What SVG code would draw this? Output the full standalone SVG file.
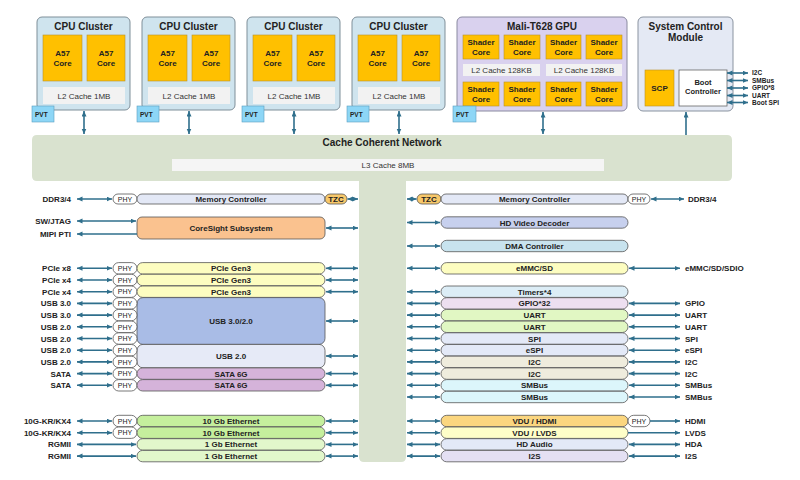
<svg xmlns="http://www.w3.org/2000/svg" width="800" height="480" viewBox="0 0 800 480">
<style>
text{font-family:"Liberation Sans",Arial,sans-serif;fill:#222}
.b{font-weight:bold}
.t10{font-size:10px;font-weight:bold;text-anchor:middle}
.t8{font-size:8px;font-weight:bold;text-anchor:middle}
.n8{font-size:8px;text-anchor:middle;fill:#333}
.lab{font-size:8px;font-weight:bold;text-anchor:end}
.rlab{font-size:8px;font-weight:bold;text-anchor:start}
.sm{font-size:6.5px;font-weight:bold}
.clu{fill:#cfe4ee;stroke:#7f8f99;stroke-width:1}
.core{fill:#ffc000;stroke:#b8912a;stroke-width:0.6}
.l2{fill:#f2f2f2}
.pvt{fill:#8dd6f6;stroke:#5a9ec0;stroke-width:0.6}
.box{stroke:#555;stroke-width:0.8}
.phy{fill:#fff;stroke:#555;stroke-width:0.8}
.ar{stroke:#2f6f8c;stroke-width:1.6;fill:none;marker-start:url(#ah);marker-end:url(#ah)}
.ae{stroke:#2f6f8c;stroke-width:1.6;fill:none;marker-end:url(#ah)}
.as{stroke:#2f6f8c;stroke-width:1.6;fill:none;marker-start:url(#ah)}
</style>
<defs>
<marker id="ah" markerUnits="userSpaceOnUse" markerWidth="6" markerHeight="6" refX="5.5" refY="2.5" orient="auto-start-reverse"><path d="M0,0 L5.5,2.5 L0,5 z" fill="#2f6f8c"/></marker>
</defs>
<rect width="800" height="480" fill="#fff"/>

<g id="ccn">
<path d="M37,135 H727 Q732,135 732,140 V176 Q732,181 727,181 H406 V457 Q406,462 401,462 H364 Q359,462 359,457 V181 H37 Q32,181 32,176 V140 Q32,135 37,135 Z" fill="#d9e2cf"/>
<text x="382" y="146" class="t10">Cache Coherent Network</text>
<rect x="172" y="159" width="432" height="12" fill="#f5f5f5"/>
<text x="388" y="168" class="n8">L3 Cache 8MB</text>
</g>

<g id="cpu1">
<rect x="37" y="17" width="93" height="93" rx="5" class="clu"/>
<text x="83.5" y="30" class="t10">CPU Cluster</text>
<rect x="43" y="35" width="39" height="46" class="core"/><text x="62.5" y="56" class="t8">A57</text><text x="62.5" y="66" class="t8">Core</text>
<rect x="87" y="35" width="38" height="46" class="core"/><text x="106" y="56" class="t8">A57</text><text x="106" y="66" class="t8">Core</text>
<rect x="43" y="87" width="82" height="17" class="l2"/><text x="84" y="99" class="n8">L2 Cache 1MB</text>
<rect x="32" y="106" width="22" height="16" class="pvt"/><text x="35" y="117" class="sm">PVT</text>
</g>
<g id="cpu2">
<rect x="142" y="17" width="93" height="93" rx="5" class="clu"/>
<text x="188.5" y="30" class="t10">CPU Cluster</text>
<rect x="148" y="35" width="39" height="46" class="core"/><text x="167.5" y="56" class="t8">A57</text><text x="167.5" y="66" class="t8">Core</text>
<rect x="192" y="35" width="38" height="46" class="core"/><text x="211" y="56" class="t8">A57</text><text x="211" y="66" class="t8">Core</text>
<rect x="148" y="87" width="82" height="17" class="l2"/><text x="189" y="99" class="n8">L2 Cache 1MB</text>
<rect x="137" y="106" width="22" height="16" class="pvt"/><text x="140" y="117" class="sm">PVT</text>
</g>
<g id="cpu3">
<rect x="247" y="17" width="93" height="93" rx="5" class="clu"/>
<text x="293.5" y="30" class="t10">CPU Cluster</text>
<rect x="253" y="35" width="39" height="46" class="core"/><text x="272.5" y="56" class="t8">A57</text><text x="272.5" y="66" class="t8">Core</text>
<rect x="297" y="35" width="38" height="46" class="core"/><text x="316" y="56" class="t8">A57</text><text x="316" y="66" class="t8">Core</text>
<rect x="253" y="87" width="82" height="17" class="l2"/><text x="294" y="99" class="n8">L2 Cache 1MB</text>
<rect x="242" y="106" width="22" height="16" class="pvt"/><text x="245" y="117" class="sm">PVT</text>
</g>
<g id="cpu4">
<rect x="352" y="17" width="93" height="93" rx="5" class="clu"/>
<text x="398.5" y="30" class="t10">CPU Cluster</text>
<rect x="358" y="35" width="39" height="46" class="core"/><text x="377.5" y="56" class="t8">A57</text><text x="377.5" y="66" class="t8">Core</text>
<rect x="402" y="35" width="38" height="46" class="core"/><text x="421" y="56" class="t8">A57</text><text x="421" y="66" class="t8">Core</text>
<rect x="358" y="87" width="82" height="17" class="l2"/><text x="399" y="99" class="n8">L2 Cache 1MB</text>
<rect x="347" y="106" width="22" height="16" class="pvt"/><text x="350" y="117" class="sm">PVT</text>
</g>

<g id="gpu">
<rect x="457" y="17" width="170" height="94" rx="5" fill="#d9d1ee" stroke="#8a8aa0" stroke-width="1"/>
<text x="542" y="30" class="t10">Mali-T628 GPU</text>
<rect x="463" y="35" width="36" height="24" class="core"/><text x="481" y="45" class="t8">Shader</text><text x="481" y="55" class="t8">Core</text>
<rect x="504" y="35" width="36" height="24" class="core"/><text x="522" y="45" class="t8">Shader</text><text x="522" y="55" class="t8">Core</text>
<rect x="546" y="35" width="35" height="24" class="core"/><text x="563.5" y="45" class="t8">Shader</text><text x="563.5" y="55" class="t8">Core</text>
<rect x="586" y="35" width="36" height="24" class="core"/><text x="604" y="45" class="t8">Shader</text><text x="604" y="55" class="t8">Core</text>
<rect x="463" y="64" width="77" height="12" class="l2"/><text x="501.5" y="73" class="n8">L2 Cache 128KB</text>
<rect x="546" y="64" width="76" height="12" class="l2"/><text x="584" y="73" class="n8">L2 Cache 128KB</text>
<rect x="463" y="82" width="36" height="24" class="core"/><text x="481" y="92" class="t8">Shader</text><text x="481" y="102" class="t8">Core</text>
<rect x="504" y="82" width="36" height="24" class="core"/><text x="522" y="92" class="t8">Shader</text><text x="522" y="102" class="t8">Core</text>
<rect x="546" y="82" width="35" height="24" class="core"/><text x="563.5" y="92" class="t8">Shader</text><text x="563.5" y="102" class="t8">Core</text>
<rect x="586" y="82" width="36" height="24" class="core"/><text x="604" y="92" class="t8">Shader</text><text x="604" y="102" class="t8">Core</text>
<rect x="453" y="106" width="23" height="16" class="pvt"/><text x="456" y="117" class="sm">PVT</text>
</g>

<g id="scm">
<rect x="638" y="17" width="95" height="94" rx="5" fill="#e4e9f4" stroke="#8a93a0" stroke-width="1"/>
<text x="685.5" y="30" class="t10">System Control</text>
<text x="685.5" y="41" class="t10">Module</text>
<rect x="645" y="70" width="29" height="36" class="core"/><text x="659.5" y="91" class="t8">SCP</text>
<rect x="679" y="70" width="48" height="36" fill="#fff" stroke="#666" stroke-width="0.8"/>
<text x="703" y="85" class="t8" style="font-size:7.5px">Boot</text><text x="703" y="94" class="t8" style="font-size:7.5px">Controller</text>
<text x="752" y="75" class="sm">I2C</text>
<text x="752" y="82.5" class="sm">SMBus</text>
<text x="752" y="90" class="sm">GPIO*8</text>
<text x="752" y="97.5" class="sm">UART</text>
<text x="752" y="104.5" class="sm">Boot SPI</text>
</g>

<!-- left side nodes -->
<g id="l-ddr">
<rect x="113" y="194" width="24" height="10" rx="5" class="phy"/><text x="125" y="202" class="t8" style="font-size:7px;font-weight:normal">PHY</text>
<rect x="137" y="194" width="188" height="10" rx="5" class="box" fill="#e3e8f6"/><text x="231" y="202" class="t8">Memory Controller</text>
<rect x="325" y="194" width="22" height="10" rx="5" class="box" fill="#f8c86a"/><text x="336" y="202" class="t8">TZC</text>
<text x="71" y="202" class="lab">DDR3/4</text>
</g>
<g id="l-coresight">
<rect x="137" y="217" width="188" height="22" rx="5" class="box" fill="#fac28f"/><text x="231" y="231" class="t8">CoreSight Subsystem</text>
<text x="71" y="224" class="lab">SW/JTAG</text>
<text x="71" y="237" class="lab">MIPI PTI</text>
</g>

<g id="l-pcie">
<rect x="113" y="262.6" width="24" height="11.4" rx="5.7" class="phy"/><text x="125" y="271" class="t8" style="font-size:7px;font-weight:normal">PHY</text>
<rect x="137" y="262.6" width="188" height="11.4" rx="5.7" class="box" fill="#fdfdc0"/><text x="231" y="271.3" class="t8">PCIe Gen3</text>
<text x="71" y="271.3" class="lab">PCIe x8</text>
<rect x="113" y="274.3" width="24" height="11.4" rx="5.7" class="phy"/><text x="125" y="282.7" class="t8" style="font-size:7px;font-weight:normal">PHY</text>
<rect x="137" y="274.3" width="188" height="11.4" rx="5.7" class="box" fill="#fdfdc0"/><text x="231" y="283" class="t8">PCIe Gen3</text>
<text x="71" y="283" class="lab">PCIe x4</text>
<rect x="113" y="286" width="24" height="11.4" rx="5.7" class="phy"/><text x="125" y="294.4" class="t8" style="font-size:7px;font-weight:normal">PHY</text>
<rect x="137" y="286" width="188" height="11.4" rx="5.7" class="box" fill="#fdfdc0"/><text x="231" y="294.7" class="t8">PCIe Gen3</text>
<text x="71" y="294.7" class="lab">PCIe x4</text>
</g>

<g id="l-usb">
<rect x="137" y="297.6" width="188" height="46.8" rx="6" class="box" fill="#a9bce6"/><text x="231" y="324" class="t8">USB 3.0/2.0</text>
<rect x="137" y="344.4" width="188" height="23.4" rx="6" class="box" fill="#e6eaf7"/><text x="231" y="359" class="t8">USB 2.0</text>
<rect x="113" y="297.7" width="24" height="11.4" rx="5.7" class="phy"/><text x="125" y="306.1" class="t8" style="font-size:7px;font-weight:normal">PHY</text>
<rect x="113" y="309.4" width="24" height="11.4" rx="5.7" class="phy"/><text x="125" y="317.8" class="t8" style="font-size:7px;font-weight:normal">PHY</text>
<rect x="113" y="321.1" width="24" height="11.4" rx="5.7" class="phy"/><text x="125" y="329.5" class="t8" style="font-size:7px;font-weight:normal">PHY</text>
<rect x="113" y="332.8" width="24" height="11.4" rx="5.7" class="phy"/><text x="125" y="341.2" class="t8" style="font-size:7px;font-weight:normal">PHY</text>
<rect x="113" y="344.5" width="24" height="11.4" rx="5.7" class="phy"/><text x="125" y="352.9" class="t8" style="font-size:7px;font-weight:normal">PHY</text>
<rect x="113" y="356.2" width="24" height="11.4" rx="5.7" class="phy"/><text x="125" y="364.6" class="t8" style="font-size:7px;font-weight:normal">PHY</text>
<text x="71" y="306.4" class="lab">USB 3.0</text>
<text x="71" y="318.1" class="lab">USB 3.0</text>
<text x="71" y="329.8" class="lab">USB 2.0</text>
<text x="71" y="341.5" class="lab">USB 2.0</text>
<text x="71" y="353.2" class="lab">USB 2.0</text>
<text x="71" y="364.9" class="lab">USB 2.0</text>
</g>

<g id="l-sata">
<rect x="113" y="367.9" width="24" height="11.4" rx="5.7" class="phy"/><text x="125" y="376.3" class="t8" style="font-size:7px;font-weight:normal">PHY</text>
<rect x="137" y="367.9" width="188" height="11.4" rx="5.7" class="box" fill="#d5b3da"/><text x="231" y="376.6" class="t8">SATA 6G</text>
<text x="71" y="376.6" class="lab">SATA</text>
<rect x="113" y="379.6" width="24" height="11.4" rx="5.7" class="phy"/><text x="125" y="388" class="t8" style="font-size:7px;font-weight:normal">PHY</text>
<rect x="137" y="379.6" width="188" height="11.4" rx="5.7" class="box" fill="#d5b3da"/><text x="231" y="388.3" class="t8">SATA 6G</text>
<text x="71" y="388.3" class="lab">SATA</text>
</g>

<g id="l-eth">
<rect x="113" y="415.3" width="24" height="11.4" rx="5.7" class="phy"/><text x="125" y="423.7" class="t8" style="font-size:7px;font-weight:normal">PHY</text>
<rect x="137" y="415.3" width="188" height="11.4" rx="5.7" class="box" fill="#c5ef9d"/><text x="231" y="424" class="t8">10 Gb Ethernet</text>
<text x="71" y="424" class="lab">10G-KR/KX4</text>
<rect x="113" y="427" width="24" height="11.4" rx="5.7" class="phy"/><text x="125" y="435.4" class="t8" style="font-size:7px;font-weight:normal">PHY</text>
<rect x="137" y="427" width="188" height="11.4" rx="5.7" class="box" fill="#c5ef9d"/><text x="231" y="435.7" class="t8">10 Gb Ethernet</text>
<text x="71" y="435.7" class="lab">10G-KR/KX4</text>
<rect x="137" y="438.7" width="188" height="11.4" rx="5.7" class="box" fill="#e2f7cb"/><text x="231" y="447.4" class="t8">1 Gb Ethernet</text>
<text x="71" y="447.4" class="lab">RGMII</text>
<rect x="137" y="450.4" width="188" height="11.4" rx="5.7" class="box" fill="#e2f7cb"/><text x="231" y="459.1" class="t8">1 Gb Ethernet</text>
<text x="71" y="459.1" class="lab">RGMII</text>
</g>

<!-- right side nodes -->
<g id="r-ddr">
<rect x="417" y="194" width="24" height="10" rx="5" class="box" fill="#f8c86a"/><text x="429" y="202" class="t8">TZC</text>
<rect x="441" y="194" width="187" height="10" rx="5" class="box" fill="#e3e8f6"/><text x="534.5" y="202" class="t8">Memory Controller</text>
<rect x="628" y="194" width="22" height="10" rx="5" class="phy"/><text x="639" y="202" class="t8" style="font-size:7px;font-weight:normal">PHY</text>
<text x="688" y="202" class="rlab">DDR3/4</text>
</g>
<g id="r-hdvd"><rect x="441" y="216.8" width="187" height="11.4" rx="5.7" class="box" fill="#c7d0ee"/><text x="534.5" y="225.5" class="t8">HD Video Decoder</text></g>
<g id="r-dma"><rect x="441" y="240.3" width="187" height="11.4" rx="5.7" class="box" fill="#c8e3ee"/><text x="534.5" y="249" class="t8">DMA Controller</text></g>
<g id="r-emmc"><rect x="441" y="262.6" width="187" height="11.4" rx="5.7" class="box" fill="#fdfdc0"/><text x="534.5" y="271.3" class="t8">eMMC/SD</text><text x="685" y="271.3" class="rlab">eMMC/SD/SDIO</text></g>
<g id="r-timers"><rect x="441" y="286" width="187" height="11.4" rx="5.7" class="box" fill="#dcedf6"/><text x="534.5" y="294.7" class="t8">Timers*4</text></g>
<g id="r-gpio"><rect x="441" y="297.7" width="187" height="11.4" rx="5.7" class="box" fill="#eddff0"/><text x="534.5" y="306.4" class="t8">GPIO*32</text><text x="685" y="306.4" class="rlab">GPIO</text></g>
<g id="r-uart1"><rect x="441" y="309.4" width="187" height="11.4" rx="5.7" class="box" fill="#e1f7c3"/><text x="534.5" y="318.1" class="t8">UART</text><text x="685" y="318.1" class="rlab">UART</text></g>
<g id="r-uart2"><rect x="441" y="321.1" width="187" height="11.4" rx="5.7" class="box" fill="#e1f7c3"/><text x="534.5" y="329.8" class="t8">UART</text><text x="685" y="329.8" class="rlab">UART</text></g>
<g id="r-spi"><rect x="441" y="332.8" width="187" height="11.4" rx="5.7" class="box" fill="#e3e9f7"/><text x="534.5" y="341.5" class="t8">SPI</text><text x="685" y="341.5" class="rlab">SPI</text></g>
<g id="r-espi"><rect x="441" y="344.5" width="187" height="11.4" rx="5.7" class="box" fill="#e3e9f7"/><text x="534.5" y="353.2" class="t8">eSPI</text><text x="685" y="353.2" class="rlab">eSPI</text></g>
<g id="r-i2c1"><rect x="441" y="356.2" width="187" height="11.4" rx="5.7" class="box" fill="#efecdd"/><text x="534.5" y="364.9" class="t8">I2C</text><text x="685" y="364.9" class="rlab">I2C</text></g>
<g id="r-i2c2"><rect x="441" y="367.9" width="187" height="11.4" rx="5.7" class="box" fill="#efecdd"/><text x="534.5" y="376.6" class="t8">I2C</text><text x="685" y="376.6" class="rlab">I2C</text></g>
<g id="r-smb1"><rect x="441" y="379.6" width="187" height="11.4" rx="5.7" class="box" fill="#dcf6fb"/><text x="534.5" y="388.3" class="t8">SMBus</text><text x="685" y="388.3" class="rlab">SMBus</text></g>
<g id="r-smb2"><rect x="441" y="391.3" width="187" height="11.4" rx="5.7" class="box" fill="#dcf6fb"/><text x="534.5" y="400" class="t8">SMBus</text><text x="685" y="400" class="rlab">SMBus</text></g>
<g id="r-hdmi"><rect x="441" y="415.3" width="187" height="11.4" rx="5.7" class="box" fill="#fbd67f"/><text x="534.5" y="424" class="t8">VDU / HDMI</text>
<rect x="628" y="415.3" width="22" height="11.4" rx="5.7" class="phy"/><text x="639" y="423.7" class="t8" style="font-size:7px;font-weight:normal">PHY</text><text x="685" y="424" class="rlab">HDMI</text></g>
<g id="r-lvds"><rect x="441" y="427" width="187" height="11.4" rx="5.7" class="box" fill="#fefec8"/><text x="534.5" y="435.7" class="t8">VDU / LVDS</text><text x="685" y="435.7" class="rlab">LVDS</text></g>
<g id="r-hda"><rect x="441" y="438.7" width="187" height="11.4" rx="5.7" class="box" fill="#e3e9f7"/><text x="534.5" y="447.4" class="t8">HD Audio</text><text x="685" y="447.4" class="rlab">HDA</text></g>
<g id="r-i2s"><rect x="441" y="450.4" width="187" height="11.4" rx="5.7" class="box" fill="#e4e0f3"/><text x="534.5" y="459.1" class="t8">I2S</text><text x="685" y="459.1" class="rlab">I2S</text></g>

<g id="connectors">
<!-- top vertical -->
<path class="ar" d="M84,111 V134"/>
<path class="ar" d="M189,111 V134"/>
<path class="ar" d="M294,111 V134"/>
<path class="ar" d="M399,111 V134"/>
<path class="ar" d="M543,112 V134"/>
<path class="ae" d="M686,135 V112"/>
<!-- SCM side -->
<path class="ar" d="M727,73 H748"/>
<path class="ar" d="M727,80.5 H748"/>
<path class="ar" d="M727,88 H748"/>
<path class="ar" d="M727,95.5 H748"/>
<path class="ar" d="M727,102.5 H748"/>
<!-- left outer -->
<path class="ar" d="M77,199 H112"/>
<path class="ar" d="M347.5,199 H358"/>
<path class="ar" d="M77,221 H136"/>
<path class="as" d="M77,234 H137"/>
<path class="ar" d="M326,228 H358"/>
<path class="ar" d="M77,268.3 H112"/>
<path class="ar" d="M77,280 H112"/>
<path class="ar" d="M77,291.7 H112"/>
<path class="ar" d="M77,303.4 H112"/>
<path class="ar" d="M77,315.1 H112"/>
<path class="ar" d="M77,326.8 H112"/>
<path class="ar" d="M77,338.5 H112"/>
<path class="ar" d="M77,350.2 H112"/>
<path class="ar" d="M77,361.9 H112"/>
<path class="ar" d="M77,373.6 H112"/>
<path class="ar" d="M77,385.3 H112"/>
<path class="ar" d="M77,421 H112"/>
<path class="ar" d="M77,432.7 H112"/>
<path class="ar" d="M77,444.4 H136"/>
<path class="ar" d="M77,456.1 H136"/>
<!-- left to bus -->
<path class="ar" d="M326,268.3 H358"/>
<path class="ar" d="M326,280 H358"/>
<path class="ar" d="M326,291.7 H358"/>
<path class="ar" d="M326,321 H358"/>
<path class="ar" d="M326,356 H358"/>
<path class="ar" d="M326,373.6 H358"/>
<path class="ar" d="M326,385.3 H358"/>
<path class="ar" d="M326,421 H358"/>
<path class="ar" d="M326,432.7 H358"/>
<path class="ar" d="M326,444.4 H358"/>
<path class="ar" d="M326,456.1 H358"/>
<!-- bus to right -->
<path class="ar" d="M407,199 H416.5"/>
<path class="ar" d="M407,222.5 H440"/>
<path class="ar" d="M407,246 H440"/>
<path class="ar" d="M407,268.3 H440"/>
<path class="ar" d="M407,291.7 H440"/>
<path class="ar" d="M407,303.4 H440"/>
<path class="ar" d="M407,315.1 H440"/>
<path class="ar" d="M407,326.8 H440"/>
<path class="ar" d="M407,338.5 H440"/>
<path class="ar" d="M407,350.2 H440"/>
<path class="ar" d="M407,361.9 H440"/>
<path class="ar" d="M407,373.6 H440"/>
<path class="ar" d="M407,385.3 H440"/>
<path class="ar" d="M407,397 H440"/>
<path class="ar" d="M407,421 H440"/>
<path class="ar" d="M407,432.7 H440"/>
<path class="ar" d="M407,444.4 H440"/>
<path class="ar" d="M407,456.1 H440"/>
<!-- right outer -->
<path class="ar" d="M651,199 H684"/>
<path class="ar" d="M629,268.3 H680"/>
<path class="ar" d="M629,303.4 H680"/>
<path class="ar" d="M629,315.1 H680"/>
<path class="ar" d="M629,326.8 H680"/>
<path class="ar" d="M629,338.5 H680"/>
<path class="ar" d="M629,350.2 H680"/>
<path class="ar" d="M629,361.9 H680"/>
<path class="ar" d="M629,373.6 H680"/>
<path class="ar" d="M629,385.3 H680"/>
<path class="ar" d="M629,397 H680"/>
<path class="ae" d="M650,421 H680"/>
<path class="ae" d="M628,432.7 H680"/>
<path class="ar" d="M629,444.4 H680"/>
<path class="ar" d="M629,456.1 H680"/>
</g>
</svg>
